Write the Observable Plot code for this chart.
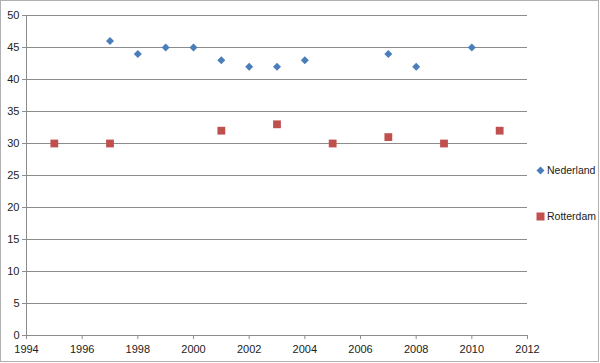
<!DOCTYPE html>
<html><head><meta charset="utf-8">
<script src="https://cdn.jsdelivr.net/npm/d3@7"></script>
<script src="https://cdn.jsdelivr.net/npm/@observablehq/plot@0.6"></script>
<style>
html,body{margin:0;padding:0;background:#fff;}
#wrap{position:relative;width:600px;height:363px;overflow:hidden;}
#frame{position:absolute;left:0;top:0;width:597px;height:360px;border:1px solid #b0b0b0;pointer-events:none;}
#legend{position:absolute;left:536px;top:164px;font-family:"Liberation Sans",sans-serif;font-size:10.5px;color:#222;}
.item{position:absolute;left:0;white-space:nowrap;display:flex;align-items:center;gap:2px;}
</style></head>
<body><div id="wrap"><div id="frame"></div><div id="legend"></div></div>
<script>
const nlYears = [1997,1998,1999,2000,2001,2002,2003,2004,2007,2008,2010];
const nlValues = [46,44,45,45,43,42,42,43,44,42,45];
const rdYears = [1995,1997,2001,2003,2005,2007,2009,2011];
const rdValues = [30,30,32,33,30,31,30,32];
const seriesNames = ["Nederland","Rotterdam"];
const seriesColors = ["#4A7EBB","#C0504D"];
const xTicks = [1994,1996,1998,2000,2002,2004,2006,2008,2010,2012];
const yTicks = [0,5,10,15,20,25,30,35,40,45,50];

const nl = nlYears.map((y,i)=>({year:y,value:nlValues[i]}));
const rd = rdYears.map((y,i)=>({year:y,value:rdValues[i]}));

const chart = Plot.plot({
  width:600, height:363,
  marginLeft:26, marginRight:73, marginTop:15, marginBottom:28,
  style:{fontFamily:'"Liberation Sans",sans-serif', fontSize:"11px", color:"#222", background:"transparent"},
  x:{domain:[1994,2012], label:null},
  y:{domain:[0,50], label:null},
  marks:[
    Plot.ruleY(yTicks.filter(d=>d>0),{stroke:"#8c8c8c",strokeWidth:1,strokeOpacity:1}),
    Plot.ruleY([0],{stroke:"#8c8c8c"}),
    Plot.ruleX([1994],{stroke:"#8c8c8c"}),
    Plot.axisX({ticks:xTicks, tickFormat:d=>String(d), tickSize:4, tickPadding:6, stroke:"#8c8c8c", fill:"#222", label:null}),
    Plot.axisY({ticks:yTicks, tickSize:4, tickPadding:3, stroke:"#8c8c8c", fill:"#222", label:null}),
    Plot.dot(nl,{x:"year",y:"value",symbol:"diamond2",r:3.6,fill:seriesColors[0],stroke:"none"}),
    Plot.dot(rd,{x:"year",y:"value",symbol:"square",r:4.4,fill:seriesColors[1],stroke:"none"})
  ]
});
document.getElementById("wrap").prepend(chart);
chart.style.position="absolute";chart.style.left="0";chart.style.top="0";

const leg = document.getElementById("legend");
const shapes = ['<svg width="9" height="9"><path d="M4.5,0.5L8.5,4.5L4.5,8.5L0.5,4.5Z" fill="'+seriesColors[0]+'"/></svg>',
                '<svg width="9" height="9"><rect x="0.5" y="0.5" width="8" height="8" fill="'+seriesColors[1]+'"/></svg>'];
seriesNames.forEach((n,i)=>{
  const d=document.createElement("div");d.className="item";d.style.top=(i*46)+"px";
  d.innerHTML=shapes[i]+'<span>'+n+'</span>';leg.appendChild(d);
});
</script></body></html>
